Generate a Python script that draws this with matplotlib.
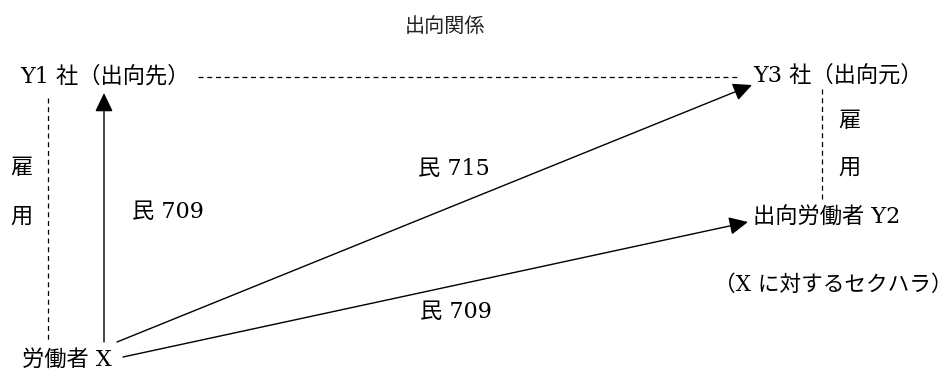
import matplotlib
matplotlib.use("Agg")
import matplotlib.pyplot as plt

plt.rcParams['font.family'] = ['DejaVu Serif', 'Noto Sans CJK JP']

# node labels and their anchor points (pixel coords, y down)
node_labels = ["Y1 社（出向先）", "Y3 社（出向元）", "出向労働者 Y2", "労働者 X"]
node_xy = [(20, 77), (753, 76), (753, 218), (22, 360)]

# edge labels
edge_labels = ["民 709", "民 715", "民 709"]
edge_label_xy = [(132, 212), (418, 169), (420, 312)]

# vertical "employment" labels, one char per line
koyo_chars = ["雇", "用"]
koyo_left_xy = [(10, 168), (10, 217)]
koyo_right_xy = [(838, 121), (838, 168)]

title = "出向関係"
note = "（X に対するセクハラ）"

# arrows: start -> tip
arrows = [((104, 342), (104, 93)),
          ((117, 342), (752, 85)),
          ((123, 357), (748, 222))]
# dashed relations
dashed = [((198, 738), (77, 77)),
          ((48, 48), (98, 342)),
          ((822, 822), (89, 202))]

fig = plt.figure(figsize=(9.53, 3.72), dpi=100)
ax = fig.add_axes([0, 0, 1, 1])
ax.set_xlim(0, 953)
ax.set_ylim(372, 0)
ax.axis('off')

fs = 16
ax.text(445, 26, title, fontsize=14.5, ha='center', va='center',
        family='Noto Sans CJK JP', color='#222222')
for lab, (x, y) in zip(node_labels, node_xy):
    ax.text(x, y, lab, fontsize=fs, ha='left', va='center')
for lab, (x, y) in zip(edge_labels, edge_label_xy):
    ax.text(x, y, lab, fontsize=fs, ha='left', va='center')
ax.text(714, 285, note, fontsize=15.6, ha='left', va='center')

for ch, (x, y) in zip(koyo_chars, koyo_left_xy):
    ax.text(x, y, ch, fontsize=fs, ha='left', va='center')
for ch, (x, y) in zip(koyo_chars, koyo_right_xy):
    ax.text(x, y, ch, fontsize=fs, ha='left', va='center')

for xs, ys in dashed:
    ax.plot(xs, ys, color='black', lw=0.9, ls=(0, (4, 3)))

for (x0, y0), (x1, y1) in arrows:
    ax.annotate("", xy=(x1, y1), xytext=(x0, y0),
                arrowprops=dict(arrowstyle='-|>,head_length=1.15,head_width=0.55',
                                color='black', lw=1.0, mutation_scale=10,
                                shrinkA=0, shrinkB=0))

fig.savefig("out.png", dpi=100, facecolor='white')
